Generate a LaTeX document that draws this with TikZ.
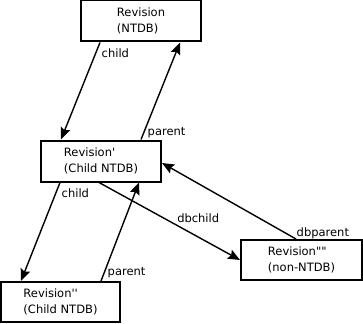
\documentclass[tikz,border=0pt]{standalone}
\usepackage{fontspec}
\setmainfont{DejaVu Sans}[Ligatures=TeXOff]
\usetikzlibrary{arrows.meta}
\tikzset{
  rev/.style  = {rectangle, draw=black, line width=2pt, fill=white,
                 minimum width=120pt, minimum height=41pt, inner sep=2pt,
                 align=left, font=\fontsize{11.5}{16}\selectfont},
  link/.style = {-{Stealth[length=12pt, width=10pt, inset=2pt]}, line width=1.4pt},
  lbl/.style  = {anchor=base west, inner sep=0pt, font=\fontsize{11.5}{14}\selectfont},
}
\begin{document}
\begin{tikzpicture}[x=1pt, y=-1pt]
  \useasboundingbox (0,0) rectangle (363,323);
  \node[rev] (ntdb)   at (141,21)    {Revision\\(NTDB)};
  \node[rev] (child)  at (101,161)   {Revision'\\(Child NTDB)};
  \node[rev, minimum width=119pt, minimum height=40pt] (gchild) at (60.5,302) {Revision''\\(Child NTDB)};
  \node[rev, minimum width=121pt, minimum height=40pt] (nonntdb) at (301.5,260) {Revision""\\(non-NTDB)};

  \draw[link] ([xshift=20pt]ntdb.south west) -- node[lbl, at start, xshift=1pt, yshift=-15.5pt]{child} ([xshift=21pt]child.north west);
  \draw[link] ([xshift=101pt]child.north west) -- node[lbl, at start, xshift=6pt, yshift=4pt]{parent} ([xshift=100pt]ntdb.south west);
  \draw[link] ([xshift=20pt]child.south west) -- node[lbl, at start, xshift=1pt, yshift=-15pt]{child} ([xshift=21pt]gchild.north west);
  \draw[link] ([xshift=101pt]gchild.north west) -- node[lbl, at start, xshift=6pt, yshift=6pt]{parent} ([xshift=99pt]child.south west);
  \draw[link] ([xshift=59pt]child.south west) -- node[lbl, pos=.55, yshift=3pt]{dbchild} (nonntdb.west);
  \draw[link] ([xshift=56pt]nonntdb.north west) -- node[lbl, at start, yshift=3pt]{dbparent} ([yshift=-2pt]child.east);
\end{tikzpicture}
\end{document}
